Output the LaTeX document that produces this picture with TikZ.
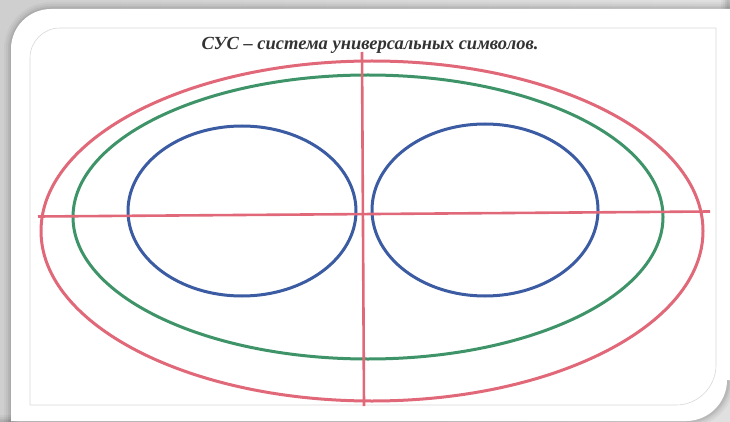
\documentclass[tikz,border=0pt]{standalone}
\usepackage{fontspec}
\newfontfamily\titlefont{Liberation Serif}
\begin{document}
\begin{tikzpicture}[x=1pt,y=-1pt,
  redline/.style={draw=rline,line width=2.6pt},
  ell/.style={line width=3pt},
  every node/.style={inner sep=0pt}]
\definecolor{rline}{HTML}{E06878}
\definecolor{gline}{HTML}{3E9468}
\definecolor{bline}{HTML}{3B5BA3}
\useasboundingbox (0,0) rectangle (730,422);
% background
\fill[left color=gray!38,right color=gray!24] (0,0) rectangle (730,422);
% soft shadow around the card
\foreach \w/\op in {14/0.03,10/0.04,6/0.05,3/0.06}{
  \draw[black,opacity=\op,line width=\w pt]
    (11,430) -- (11,49) arc[start angle=180,end angle=270,radius=40] -- (740,9);
  \draw[black,opacity=\op,line width=\w pt]
    (728,0) -- (728,380) arc[start angle=0,end angle=90,radius=41] -- (0,422);
}
% card
\fill[white] (11,422) -- (11,49) arc[start angle=180,end angle=270,radius=40] -- (730,9)
  -- (730,380) -- (727,380) arc[start angle=0,end angle=90,radius=41] -- (11,421) -- cycle;
% inner thin frame
\draw[gray!30,line width=0.6pt] (30,405) -- (30,58) arc[start angle=180,end angle=270,radius=30]
  -- (716,28) -- (716,365) arc[start angle=0,end angle=90,radius=40] -- cycle;
% title
\node[text=black!80] (title) at (370,45) {\titlefont\bfseries\itshape\fontsize{18.5}{20}\selectfont СУС – система универсальных символов.};
% ellipses
\draw[rline,ell] (372,231) ellipse [x radius=331pt, y radius=170pt];
\draw[gline,ell] (368,217) ellipse [x radius=295pt, y radius=142pt];
\draw[bline,ell] (242,211) ellipse [x radius=114pt, y radius=85pt];
\draw[bline,ell] (485,210) ellipse [x radius=113pt, y radius=86pt];
% axes
\coordinate (hl) at (38,216.5);
\coordinate (hr) at (710,211.5);
\coordinate (vt) at (362,52);
\coordinate (vb) at (364,406);
\draw[redline] (hl) -- (hr);
\draw[redline] (vt) -- (vb);
\end{tikzpicture}
\end{document}
